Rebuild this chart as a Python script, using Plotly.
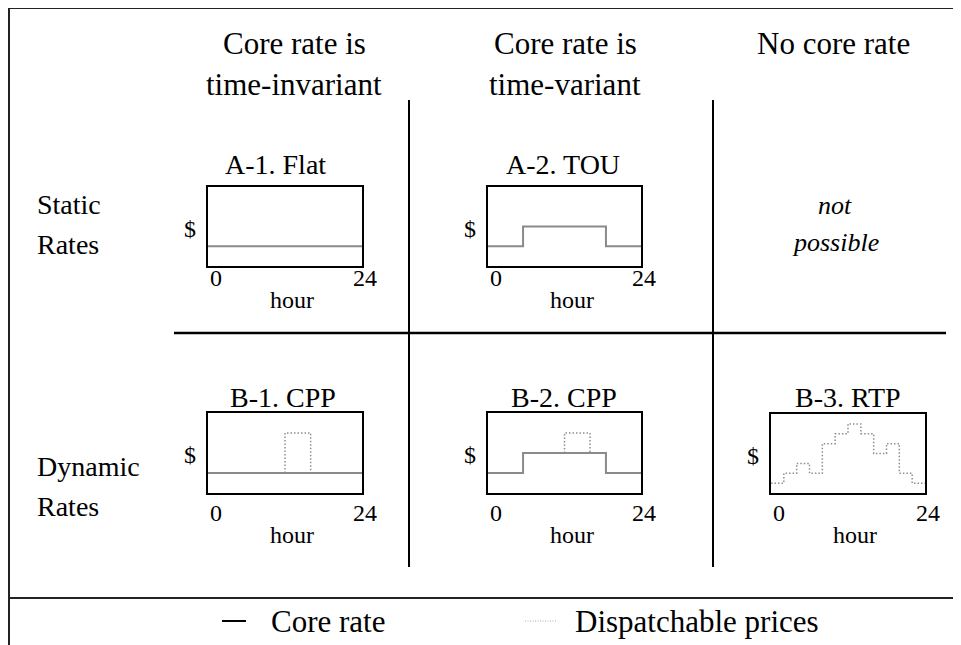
import plotly.graph_objects as go

# The page body has an 8px margin; the figure is sized to fill the rest of the window.
OFF = 8
W, H = 961 - OFF, 645 - OFF

# ---------------- data ----------------
flat_hours = [0, 24]
flat_rate = [1, 1]

tou_hours = [0, 5.5, 18.5, 24]
tou_rate = [1, 2, 1, 1]

cpp_hours = [12, 12, 16, 16]
cpp1_price = [1, 3, 3, 1]
cpp2_price = [2, 3, 3, 2]

rtp_hours = [0, 2, 4, 6, 8, 10, 12, 14, 16, 18, 20, 22, 24]
rtp_price = [0.5, 1, 1.5, 1, 2.5, 3, 3.5, 3, 2, 2.5, 1, 0.5, 0.5]

tick_vals = [0, 24]
tick_text = ["0", "24"]

col_headers = [["Core rate is", "time-invariant"], ["Core rate is", "time-variant"], ["No core rate"]]
row_headers = [["Static", "Rates"], ["Dynamic", "Rates"]]
panel_titles = ["A-1. Flat", "A-2. TOU", "B-1. CPP", "B-2. CPP", "B-3. RTP"]
legend_labels = ["Core rate", "Dispatchable prices"]

FONT = "'Liberation Serif', 'DejaVu Serif', 'Times New Roman', serif"
CORE_COLOR = "#8a8a8a"
DISP_COLOR = "#8f8f8f"


def X(px):
    return (px - OFF) / W


def Y(py):
    return 1 - (py - OFF) / H


# panel boxes in pixels: (left, right, top, bottom)
boxes = [
    (208, 362, 187, 266),
    (488, 641, 187, 266),
    (208, 362, 413, 493),
    (488, 641, 413, 493),
    (771, 925, 414, 493),
]

fig = go.Figure()

core = dict(color=CORE_COLOR, width=2)
disp = dict(color=DISP_COLOR, width=1.5, dash="1.5px,2px")

# A-1
fig.add_trace(go.Scatter(x=flat_hours, y=flat_rate, mode="lines", line=core, xaxis="x", yaxis="y", showlegend=False))
# A-2
fig.add_trace(go.Scatter(x=tou_hours, y=tou_rate, mode="lines", line=core, line_shape="hv", xaxis="x2", yaxis="y2", showlegend=False))
# B-1
fig.add_trace(go.Scatter(x=cpp_hours, y=cpp1_price, mode="lines", line=disp, xaxis="x3", yaxis="y3", showlegend=False))
fig.add_trace(go.Scatter(x=flat_hours, y=flat_rate, mode="lines", line=core, xaxis="x3", yaxis="y3", showlegend=False))
# B-2
fig.add_trace(go.Scatter(x=cpp_hours, y=cpp2_price, mode="lines", line=disp, xaxis="x4", yaxis="y4", showlegend=False))
fig.add_trace(go.Scatter(x=tou_hours, y=tou_rate, mode="lines", line=core, line_shape="hv", xaxis="x4", yaxis="y4", showlegend=False))
# B-3
fig.add_trace(go.Scatter(x=rtp_hours, y=rtp_price, mode="lines", line=disp, line_shape="hv", xaxis="x5", yaxis="y5", showlegend=False))

layout = dict(
    width=W, height=H,
    margin=dict(l=0, r=0, t=0, b=0),
    paper_bgcolor="white", plot_bgcolor="white",
    font=dict(family=FONT, color="black"),
    showlegend=False,
)

annotations = []
for i, (l, r, t, b) in enumerate(boxes):
    n = "" if i == 0 else str(i + 1)
    ax = dict(domain=[X(l), X(r)], range=[0, 24], showgrid=False, zeroline=False,
              showticklabels=False, showline=True, mirror=True, linecolor="black",
              linewidth=2, fixedrange=True, anchor="y" + n, ticks="")
    ay = dict(domain=[Y(b), Y(t)], range=[0, 4], showgrid=False, zeroline=False,
              showticklabels=False, showline=True, mirror=True, linecolor="black",
              linewidth=2, fixedrange=True, anchor="x" + n, ticks="")
    layout["xaxis" + n] = ax
    layout["yaxis" + n] = ay

    row_b = i >= 2
    tick_y = (513 if row_b else 278)
    hour_y = (535 if row_b else 300)
    annotations.append(dict(x=tick_vals[0], xref="x" + n, y=Y(tick_y), yref="paper",
                            text=tick_text[0], showarrow=False, xanchor="left", yanchor="middle",
                            font=dict(family=FONT, size=24)))
    annotations.append(dict(x=tick_vals[1], xref="x" + n, y=Y(tick_y), yref="paper",
                            text=tick_text[1], showarrow=False, xanchor="center", yanchor="middle",
                            xshift=3, font=dict(family=FONT, size=24)))
    annotations.append(dict(x=0.5, xref="x" + n + " domain", y=Y(hour_y), yref="paper",
                            text="hour", showarrow=False, xanchor="center", yanchor="middle",
                            xshift=7, font=dict(family=FONT, size=24)))
    annotations.append(dict(x=X(l - 18), xref="paper", y=Y((t + b) / 2 + 2), yref="paper",
                            text="$", showarrow=False, xanchor="center", yanchor="middle",
                            font=dict(family=FONT, size=24)))

title_pos = [(275, 165), (563, 165), (283, 397), (564, 397), (848, 397)]
for txt, (px, py) in zip(panel_titles, title_pos):
    annotations.append(dict(x=X(px), y=Y(py), xref="paper", yref="paper", text=txt,
                            showarrow=False, xanchor="center", yanchor="middle",
                            font=dict(family=FONT, size=28)))

col_x = [294, 565, 833]
for cx, lines in zip(col_x, col_headers):
    for k, line in enumerate(lines):
        annotations.append(dict(x=X(cx), y=Y(43 + 41 * k), xref="paper", yref="paper", text=line,
                                showarrow=False, xanchor="center", yanchor="middle",
                                font=dict(family=FONT, size=31)))

row_y = [204, 466]
for ry, lines in zip(row_y, row_headers):
    for k, line in enumerate(lines):
        annotations.append(dict(x=X(35), y=Y(ry + 40 * k), xref="paper", yref="paper", text=line,
                                showarrow=False, xanchor="left", yanchor="middle",
                                font=dict(family=FONT, size=28)))

annotations.append(dict(x=X(835), y=Y(205), xref="paper", yref="paper", text="<i>not</i>",
                        showarrow=False, xanchor="center", yanchor="middle", font=dict(family=FONT, size=26)))
annotations.append(dict(x=X(835), y=Y(243), xref="paper", yref="paper", text="<i>possible</i>",
                        showarrow=False, xanchor="center", yanchor="middle", font=dict(family=FONT, size=26)))

annotations.append(dict(x=X(269), y=Y(621), xref="paper", yref="paper", text=legend_labels[0],
                        showarrow=False, xanchor="left", yanchor="middle", font=dict(family=FONT, size=31)))
annotations.append(dict(x=X(573), y=Y(621), xref="paper", yref="paper", text=legend_labels[1],
                        showarrow=False, xanchor="left", yanchor="middle", font=dict(family=FONT, size=31)))

layout["annotations"] = annotations


def pline(x0, y0, x1, y1, color="black", width=2, dash="solid"):
    return dict(type="line", xref="paper", yref="paper", x0=X(x0), y0=Y(y0), x1=X(x1), y1=Y(y1),
                line=dict(color=color, width=width, dash=dash), layer="above")


shapes = [
    pline(9, 8, 9, 645, color="#222", width=2),
    pline(9, 8, 955, 8, color="#222", width=2),
    pline(955, 8, 955, 598, color="#222", width=2),
    pline(9, 598, 961, 598, color="#222", width=2),
    pline(409, 100, 409, 567, width=2),
    pline(713, 100, 713, 567, width=2),
    pline(174, 333, 946, 333, width=2.5),
    pline(222, 621, 246, 621, color="black", width=2),
    pline(525, 621, 556, 621, color="#aaaaaa", width=1, dash="1px,1.5px"),
]
layout["shapes"] = shapes

fig.update_layout(**layout)
fig.write_html("out.html")
